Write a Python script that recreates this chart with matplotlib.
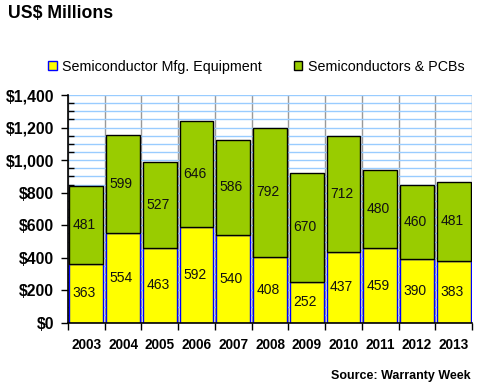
import matplotlib
matplotlib.use("Agg")
import matplotlib.pyplot as plt
from matplotlib.ticker import MultipleLocator, FuncFormatter
from matplotlib.patches import Patch
import numpy as np

years = ["2003", "2004", "2005", "2006", "2007", "2008", "2009", "2010", "2011", "2012", "2013"]
equipment = [363, 554, 463, 592, 540, 408, 252, 437, 459, 390, 383]
semis = [481, 599, 527, 646, 586, 792, 670, 712, 480, 460, 481]

plt.rcParams['font.family'] = ['Liberation Sans', 'DejaVu Sans']

fig = plt.figure(figsize=(4.8, 3.9), dpi=100)
ax = fig.add_axes([68/480, 1 - 323/390, 404/480, 228/390])

x = np.arange(len(years))
w = 0.92
yellow = "#FFFF00"
green = "#99CC00"
ax.bar(x, equipment, width=w, color=yellow, edgecolor="#0000FF", linewidth=1.0, zorder=3)
ax.bar(x, semis, width=w, bottom=equipment, color=green, edgecolor="black", linewidth=1.0, zorder=3)

for i in range(len(years)):
    ax.text(x[i] - 0.05, equipment[i] / 2, str(equipment[i]), ha="center", va="center",
            fontsize=10, zorder=4, color="#111111")
    ax.text(x[i] - 0.05, equipment[i] + semis[i] / 2, str(semis[i]), ha="center", va="center",
            fontsize=10, zorder=4, color="#111111")

ax.set_xlim(-0.5, len(years) - 0.5)
ax.set_ylim(0, 1400)
ax.yaxis.set_major_locator(MultipleLocator(200))
ax.yaxis.set_minor_locator(MultipleLocator(50))
ax.yaxis.set_major_formatter(FuncFormatter(lambda v, p: "${:,.0f}".format(v)))
ax.set_xticks(x)
ax.set_xticklabels(years, fontsize=9.8, fontweight="bold")
ax.set_xticks(np.arange(-0.5, len(years)), minor=True)
ax.tick_params(axis="x", which="major", length=0, pad=11)
ax.tick_params(axis="x", which="minor", length=5, direction="out", width=1)
ax.tick_params(axis="y", which="major", length=5, direction="out", width=1, labelsize=11.4, pad=5)
ax.tick_params(axis="y", which="minor", length=4, direction="in", width=1)
for lab in ax.get_yticklabels():
    lab.set_fontweight("bold")

ax.grid(True, axis="y", which="both", color="#99CCFF", linewidth=1.0, zorder=0)
ax.grid(True, axis="x", which="minor", color="#999999", linewidth=1.0, zorder=0)
ax.grid(False, axis="x", which="major")
ax.set_axisbelow(True)
for s in ["top", "right"]:
    ax.spines[s].set_visible(False)
ax.spines["left"].set_linewidth(1.2)
ax.spines["bottom"].set_linewidth(1.2)
ax.spines["left"].set_zorder(5)
ax.spines["bottom"].set_zorder(5)

fig.text(8/480, 1 - 13/390, "US$ Millions", fontsize=12.7, fontweight="bold", va="center", ha="left")

handles = [Patch(facecolor=yellow, edgecolor="#0000FF", linewidth=1),
           Patch(facecolor=green, edgecolor="black", linewidth=1)]
fig.legend(handles, ["Semiconductor Mfg. Equipment", "Semiconductors & PCBs"],
           loc="center left", bbox_to_anchor=(48/480, 1 - 67/390), ncol=2, frameon=False,
           fontsize=10.3, handlelength=0.6, handleheight=0.6, handletextpad=0.4,
           columnspacing=2.2, borderaxespad=0, borderpad=0)

fig.text(471/480, 1 - 376/390, "Source: Warranty Week", fontsize=9, fontweight="bold",
         ha="right", va="center")

fig.savefig("out.png", dpi=100)
